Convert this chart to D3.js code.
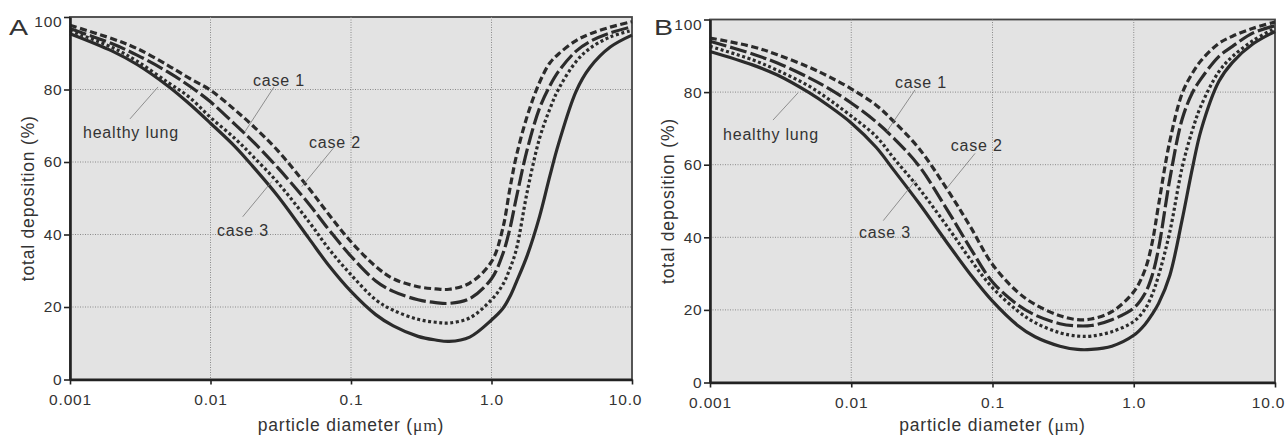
<!DOCTYPE html>
<html>
<head>
<meta charset="utf-8">
<script src="https://cdn.jsdelivr.net/npm/d3@7"></script>
<style>
  body { margin: 0; background: #fff; }
  text { font-family: "Liberation Sans", Arial, sans-serif; fill: #333; }
</style>
</head>
<body>
<svg id="chart" width="1285" height="440"></svg>
<script>
// ---------- data ----------
const diameters = [0.001, 0.002, 0.003, 0.005, 0.007, 0.01, 0.015, 0.02, 0.03, 0.05, 0.07, 0.1,
  0.15, 0.2, 0.3, 0.4, 0.5, 0.7, 1.0, 1.2, 1.35, 1.5, 1.8, 2.2, 2.6, 3, 4, 5, 7, 10];

const xTickValues = [0.001, 0.01, 0.1, 1, 10];
const xTickLabels = ["0.001", "0.01", "0.1", "1.0", "10.0"];
const yTickValues = [0, 20, 40, 60, 80, 100];

// panel A
const healthyA = [95.4, 90.6, 86.9, 80.9, 76.2, 70.7, 64.2, 58.8, 50.7, 39.0, 31.3, 24.3,
  17.9, 14.8, 11.9, 10.9, 10.5, 11.7, 16.4, 19.5, 22.8, 26.8, 34.3, 45.0, 56.1, 65.0, 79.5, 86.0, 91.7, 95.0];
const case1A = [97.7, 94.0, 91.3, 86.6, 83.2, 79.8, 74.3, 70.0, 63.2, 52.8, 45.4, 38.0,
  31.2, 27.8, 25.6, 25.0, 24.9, 26.6, 32.5, 41.5, 52.5, 61.5, 72.8, 82.0, 87.3, 89.8, 93.5, 95.3, 97.2, 98.7];
const case2A = [96.8, 92.6, 89.5, 84.8, 81.1, 76.6, 70.3, 65.7, 58.5, 48.5, 41.2, 34.0,
  27.2, 24.3, 22.0, 21.2, 21.0, 22.3, 27.8, 34.5, 41.5, 50.0, 63.6, 74.9, 81.0, 85.0, 90.6, 93.2, 95.6, 97.3];
const case3A = [96.2, 91.6, 87.8, 81.9, 78.0, 72.3, 66.4, 61.6, 54.4, 43.6, 35.9, 28.9,
  22.0, 19.1, 16.6, 15.8, 15.6, 17.0, 22.0, 26.1, 30.5, 35.8, 52.0, 66.6, 74.6, 80.1, 87.7, 91.3, 94.5, 96.3];

// panel B
const healthyB = [91.2, 87.5, 84.7, 79.9, 76.1, 71.5, 64.8, 58.5, 49.5, 37.4, 29.7, 22.4,
  15.8, 12.6, 10.0, 9.1, 9.1, 10.0, 13.0, 16.0, 18.8, 21.8, 29.5, 44.8, 59.0, 69.6, 82.9, 88.2, 93.3, 96.7];
const case1B = [94.9, 92.5, 90.3, 86.9, 84.2, 80.9, 76.4, 71.9, 64.6, 52.0, 42.8, 32.5,
  25.0, 21.5, 18.4, 17.3, 17.5, 19.5, 25.0, 31.0, 38.5, 49.0, 66.5, 79.6, 85.2, 88.7, 93.4, 95.4, 97.6, 99.3];
const case2B = [94.0, 90.5, 88.0, 84.0, 80.9, 77.0, 71.8, 67.3, 59.8, 46.3, 36.9, 27.7,
  21.5, 18.6, 16.2, 15.6, 15.7, 17.3, 20.5, 24.5, 29.5, 37.0, 56.0, 72.5, 79.8, 83.7, 89.8, 92.6, 96.3, 98.3];
const case3B = [92.6, 88.9, 86.0, 81.7, 77.9, 73.4, 67.8, 61.8, 53.6, 41.9, 33.8, 26.1,
  19.8, 16.5, 13.7, 12.8, 12.8, 14.0, 16.8, 20.2, 24.2, 29.5, 41.5, 59.2, 69.5, 76.3, 85.6, 89.8, 94.2, 97.6];

// labels with leader lines, in data units [diameter, %]
const notesA = [
  { text: "healthy lung", at: [0.001237, 66.6], from: [0.002673, 71.9], to: [0.00423, 80.7] },
  { text: "case 1", at: [0.02007, 81.0], from: [0.02831, 80.7], to: [0.01761, 68.4] },
  { text: "case 2", at: [0.0502, 63.8], from: [0.0748, 63.8], to: [0.04458, 53.2] },
  { text: "case 3", at: [0.01112, 39.6], from: [0.01695, 44.9], to: [0.02727, 54.6] }
];
const notesB = [
  { text: "healthy lung", at: [0.001236, 66.8], from: [0.002793, 72.3], to: [0.0042, 79.8] },
  { text: "case 1", at: [0.0204, 81.0], from: [0.02827, 80.6], to: [0.01782, 69.1] },
  { text: "case 2", at: [0.0506, 63.9], from: [0.0752, 63.1], to: [0.0474, 53.5] },
  { text: "case 3", at: [0.01135, 39.9], from: [0.01686, 44.6], to: [0.02873, 55.8] }
];

// line styles per series
const dashes = { healthy: null, case1: "7,3.5", case2: "17,4", case3: "3,2.6" };

const svg = d3.select("#chart");

function drawPanel(cfg) {
  const g = svg.append("g");
  const x = d3.scaleLog().domain([0.001, 10]).range([cfg.left, cfg.right]);
  const y = d3.scaleLinear().domain([0, 100]).range([cfg.bottom, cfg.top]);

  // plot background + frame
  g.append("rect")
    .attr("x", cfg.left).attr("y", cfg.top)
    .attr("width", cfg.right - cfg.left).attr("height", cfg.bottom - cfg.top)
    .attr("fill", "#e3e3e3")
    .attr("stroke", "#444").attr("stroke-width", 1.8);

  // grid (dotted)
  g.append("g").selectAll("line")
    .data(xTickValues.slice(1, -1))
    .join("line")
    .attr("x1", d => x(d)).attr("x2", d => x(d))
    .attr("y1", cfg.top).attr("y2", cfg.bottom)
    .attr("stroke", "#8a8a8a").attr("stroke-width", 1).attr("stroke-dasharray", "1,1.5");
  g.append("g").selectAll("line")
    .data(yTickValues.slice(1, -1))
    .join("line")
    .attr("x1", cfg.left).attr("x2", cfg.right)
    .attr("y1", d => y(d)).attr("y2", d => y(d))
    .attr("stroke", "#8a8a8a").attr("stroke-width", 1).attr("stroke-dasharray", "1,1.5");

  // curves (smooth, passing through the read points)
  const line = d3.line()
    .x(d => x(d[0]))
    .y(d => y(d[1]))
    .curve(d3.curveCatmullRom.alpha(0.5));

  cfg.series.forEach(s => {
    g.append("path")
      .datum(diameters.map((d, i) => [d, s.values[i]]))
      .attr("d", line)
      .attr("fill", "none")
      .attr("stroke", "#2b2b2b")
      .attr("stroke-width", 3.2)
      .attr("stroke-dasharray", s.dash);
  });

  // annotations
  cfg.notes.forEach(n => {
    g.append("line")
      .attr("x1", x(n.from[0])).attr("y1", y(n.from[1]))
      .attr("x2", x(n.to[0])).attr("y2", y(n.to[1]))
      .attr("stroke", "#777").attr("stroke-width", 0.8);
    g.append("text")
      .attr("x", x(n.at[0])).attr("y", y(n.at[1]))
      .style("font-size", "16px")
      .style("letter-spacing", "0.8px")
      .text(n.text);
  });

  // axes
  const yAxis = g.append("g")
    .attr("transform", `translate(${cfg.left},0)`)
    .call(d3.axisLeft(y).tickValues(yTickValues).tickSize(6).tickPadding(1.5).tickSizeOuter(0));
  const xAxis = g.append("g")
    .attr("transform", `translate(0,${cfg.bottom})`)
    .call(d3.axisBottom(x).tickValues(xTickValues).tickFormat((d, i) => xTickLabels[i])
      .tickSize(5).tickPadding(9).tickSizeOuter(0));

  [yAxis, xAxis].forEach(a => {
    a.select(".domain").attr("stroke", "#222").attr("stroke-width", 2.6);
    a.selectAll(".tick line").attr("stroke", "#222").attr("stroke-width", 1.6);
    a.selectAll(".tick text")
      .attr("fill", "#2e2e2e")
      .style("font-family", "'Liberation Sans', Arial, sans-serif")
      .style("font-size", "15.5px")
      .style("letter-spacing", "0.8px");
  });
  // top label sits a little lower, last x label pulled in
  yAxis.selectAll(".tick text").filter(d => d === 100).attr("dy", "0.62em");
  xAxis.selectAll(".tick text").filter(d => d === 10).attr("dx", "-7");

  // axis titles
  g.append("text")
    .attr("transform", `translate(${cfg.left - 36},${(cfg.top + cfg.bottom) / 2}) rotate(-90)`)
    .attr("text-anchor", "middle")
    .style("font-size", "17.5px")
    .style("letter-spacing", "0.8px")
    .text("total deposition (%)");

  const xt = g.append("text")
    .attr("x", (cfg.left + cfg.right) / 2)
    .attr("y", 431)
    .attr("text-anchor", "middle")
    .style("font-size", "17.5px")
    .style("letter-spacing", "0.8px");
  xt.append("tspan").text("particle diameter (");
  xt.append("tspan").style("font-family", "'Liberation Serif', 'Times New Roman', serif").text("\u03bcm");
  xt.append("tspan").text(")");

  // panel letter
  g.append("text")
    .attr("transform", `translate(${cfg.letterX},35) scale(1.3,1)`)
    .style("font-size", "22px")
    .attr("fill", "#222")
    .text(cfg.letter);
}

drawPanel({
  letter: "A", letterX: 9,
  left: 70, right: 632, top: 17, bottom: 379.5,
  notes: notesA,
  series: [
    { values: healthyA, dash: dashes.healthy },
    { values: case3A, dash: dashes.case3 },
    { values: case2A, dash: dashes.case2 },
    { values: case1A, dash: dashes.case1 }
  ]
});

drawPanel({
  letter: "B", letterX: 654,
  left: 710, right: 1275, top: 19.5, bottom: 382.5,
  notes: notesB,
  series: [
    { values: healthyB, dash: dashes.healthy },
    { values: case3B, dash: dashes.case3 },
    { values: case2B, dash: dashes.case2 },
    { values: case1B, dash: dashes.case1 }
  ]
});
</script>
</body>
</html>
